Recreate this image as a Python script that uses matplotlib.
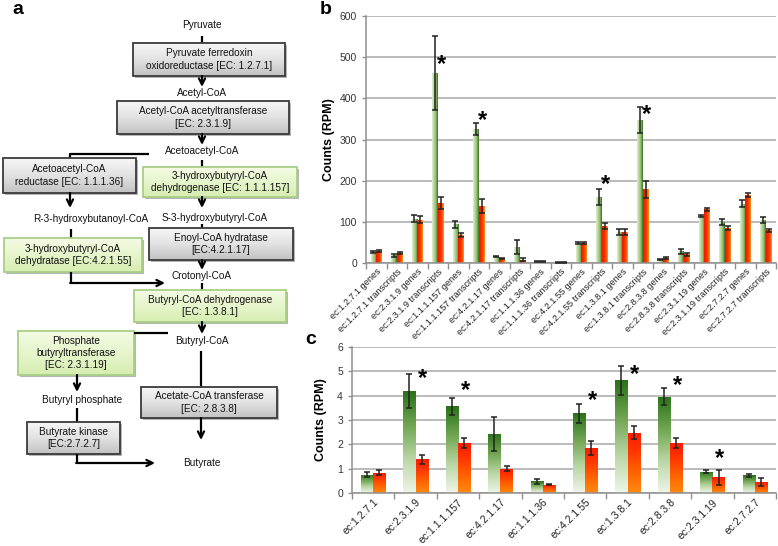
import numpy as np
import matplotlib
matplotlib.use('Agg')
import matplotlib.pyplot as plt
from matplotlib.patches import Rectangle
from matplotlib.colors import LinearSegmentedColormap

plt.rcParams['font.family'] = ['Liberation Sans', 'DejaVu Sans']

# ---------------- data: panel b ----------------
b_labels = ['ec:1.2.7.1 genes', 'ec:1.2.7.1 transcripts', 'ec:2.3.1.9 genes', 'ec:2.3.1.9 transcripts',
            'ec:1.1.1.157 genes', 'ec:1.1.1.157 transcripts', 'ec:4.2.1.17 genes', 'ec:4.2.1.17 transcripts',
            'ec:1.1.1.36 genes', 'ec:1.1.1.36 transcripts', 'ec:4.2.1.55 genes', 'ec:4.2.1.55 transcripts',
            'ec:1.3.8.1 genes', 'ec:1.3.8.1 transcripts', 'ec:2.8.3.8 genes', 'ec:2.8.3.8 transcripts',
            'ec:2.3.1.19 genes', 'ec:2.3.1.19 transcripts', 'ec:2.7.2.7 genes', 'ec:2.7.2.7 transcripts']
b_green = [27, 19, 108, 461, 94, 325, 15, 40, 3, 1, 48, 160, 76, 347, 8, 29, 114, 100, 144, 104]
b_green_err = [3, 4, 8, 90, 8, 15, 1, 17, 1, 0.5, 3, 19, 7, 31, 1, 6, 3, 8, 8, 8]
b_red = [29, 25, 105, 145, 68, 138, 10, 8, 3, 1, 48, 90, 76, 179, 12, 21, 130, 85, 166, 79]
b_red_err = [3, 2, 8, 15, 6, 17, 1, 3, 1, 0.5, 3, 8, 7, 20, 2, 3, 3, 4, 5, 4]
b_star_idx = [3, 5, 11, 13]
b_star_y = [481, 345, 190, 360]
b_yticks = [0, 100, 200, 300, 400, 500, 600]

# ---------------- data: panel c ----------------
c_labels = ['ec:1.2.7.1', 'ec:2.3.1.9', 'ec:1.1.1.157', 'ec:4.2.1.17', 'ec:1.1.1.36',
            'ec:4.2.1.55', 'ec:1.3.8.1', 'ec:2.8.3.8', 'ec:2.3.1.19', 'ec:2.7.2.7']
c_green = [0.75, 4.19, 3.56, 2.44, 0.49, 3.27, 4.63, 3.95, 0.88, 0.73]
c_green_err = [0.1, 0.7, 0.35, 0.7, 0.1, 0.38, 0.6, 0.35, 0.05, 0.07]
c_red = [0.84, 1.38, 2.04, 1.0, 0.33, 1.85, 2.47, 2.04, 0.64, 0.45]
c_red_err = [0.1, 0.17, 0.2, 0.1, 0.02, 0.27, 0.27, 0.2, 0.3, 0.15]
c_star_idx = [1, 2, 5, 6, 7, 8]
c_star_y = [4.7, 4.2, 3.8, 4.85, 4.4, 1.4]
c_yticks = [0, 1, 2, 3, 4, 5, 6]

W, H = 778, 546
fig = plt.figure(figsize=(W / 100, H / 100), dpi=100)

# ---------------- panel a: pathway diagram (pixel coordinates) ----------------
axa = fig.add_axes([0, 0, 1, 1])
axa.set_xlim(0, W)
axa.set_ylim(H, 0)
axa.axis('off')
axa.set_zorder(0)

gray_cmap = LinearSegmentedColormap.from_list('g', ['#f6f6f6', '#e2e2e2', '#c2c2c2'])
green_cmap = LinearSegmentedColormap.from_list('gr', ['#f3fbe4', '#e6f5cc', '#d6edb0'])
FS = 7.2


def box(x0, y0, x1, y1, text, kind):
    # shadow
    axa.add_patch(Rectangle((x0 + 2, y0 + 2), x1 - x0, y1 - y0, facecolor='#b5b5b5',
                            edgecolor='none', zorder=1))
    grad = np.linspace(0, 1, 64).reshape(-1, 1)
    cmap = gray_cmap if kind == 'gray' else green_cmap
    axa.imshow(grad, cmap=cmap, extent=[x0, x1, y1, y0], aspect='auto', zorder=2,
               interpolation='bilinear')
    ec = '#3a3a3a' if kind == 'gray' else '#a9cf86'
    axa.add_patch(Rectangle((x0, y0), x1 - x0, y1 - y0, facecolor='none',
                            edgecolor=ec, lw=1.3, zorder=3))
    axa.text((x0 + x1) / 2, (y0 + y1) / 2, text, ha='center', va='center',
             fontsize=FS, zorder=4, linespacing=1.3, color='#111111')


def label(x, y, text):
    axa.text(x, y, text, ha='center', va='center', fontsize=FS, zorder=4, color='#111111')


def line(xs, ys):
    axa.plot(xs, ys, color='black', lw=1.6, zorder=3, solid_capstyle='butt')


def arrow(x0, y0, x1, y1):
    axa.annotate('', xy=(x1, y1), xytext=(x0, y0),
                 arrowprops=dict(arrowstyle='->', lw=1.6, color='black',
                                 mutation_scale=11, shrinkA=0, shrinkB=0), zorder=3)


axa.text(12, 10, 'a', fontsize=14, fontweight='bold', va='center', ha='left')

label(202, 25, 'Pyruvate')
line([202, 202], [36, 43])
box(133, 43, 285, 76, 'Pyruvate ferredoxin\noxidoreductase [EC: 1.2.7.1]', 'gray')
arrow(202, 76, 202, 87)
label(202, 93, 'Acetyl-CoA')
box(117, 101, 289, 134, 'Acetyl-CoA acetyltransferase\n[EC: 2.3.1.9]', 'gray')
arrow(202, 134, 202, 145)
label(202, 151, 'Acetoacetyl-CoA')
line([149, 70, 70], [154, 154, 158])
box(3, 158, 136, 193, 'Acetoacetyl-CoA\nreductase [EC: 1.1.1.36]', 'gray')
line([202, 202], [160, 167])
box(143, 167, 297, 197, '3-hydroxybutyryl-CoA\ndehydrogenase [EC: 1.1.1.157]', 'green')
arrow(70, 193, 70, 208)
label(91, 219, 'R-3-hydroxybutanoyl-CoA')
arrow(202, 197, 202, 208)
label(215, 218, 'S-3-hydroxybutyryl-CoA')
line([71, 71], [229, 238])
box(4, 238, 142, 272, '3-hydroxybutyryl-CoA\ndehydratase [EC:4.2.1.55]', 'green')
line([202, 202], [224, 228])
box(149, 228, 293, 260, 'Enoyl-CoA hydratase\n[EC:4.2.1.17]', 'gray')
line([71, 71], [272, 283])
arrow(70.2, 283, 165, 283)
arrow(202, 260, 202, 270)
label(202, 276, 'Crotonyl-CoA')
line([202, 202], [283, 290])
box(134, 290, 286, 322, 'Butyryl-CoA dehydrogenase\n[EC: 1.3.8.1]', 'green')
arrow(202, 322, 202, 334)
label(202, 341, 'Butyryl-CoA')
box(18, 331, 134, 375, 'Phosphate\nbutyryltransferase\n[EC: 2.3.1.19]', 'green')
line([134, 168], [333, 333])
line([201, 201], [351, 387])
box(141, 387, 277, 418, 'Acetate-CoA transferase\n[EC: 2.8.3.8]', 'gray')
arrow(201, 418, 201, 440)
label(202, 463, 'Butyrate')
arrow(77, 375, 77, 392)
label(82, 400, 'Butyryl phosphate')
line([77, 77], [408, 422])
box(27, 422, 120, 454, 'Butyrate kinase\n[EC:2.7.2.7]', 'gray')
line([77, 77], [454, 463])
arrow(76.2, 463, 155, 463)

# ---------------- helpers for bar panels ----------------
GRID = '#a8a8a8'
SPINE = '#8f8f8f'


def style_axes(ax, n, yticks, labels, lab_fs, tick_fs):
    ax.set_xlim(-0.5, n - 0.5)
    ax.set_ylim(yticks[0], yticks[-1])
    ax.set_yticks(yticks)
    ax.yaxis.grid(True, color=GRID, lw=1.1)
    ax.set_axisbelow(True)
    for s in ['top', 'right']:
        ax.spines[s].set_visible(False)
    for s in ['left', 'bottom']:
        ax.spines[s].set_color(SPINE)
        ax.spines[s].set_linewidth(1.1)
    ax.set_xticks(np.arange(n))
    ax.set_xticklabels(labels, rotation=45, ha='right', rotation_mode='anchor', fontsize=lab_fs,
                       color='#222222')
    ax.set_xticks(np.arange(n + 1) - 0.5, minor=True)
    ax.tick_params(axis='x', which='major', length=0, pad=3)
    ax.tick_params(axis='x', which='minor', length=4, color=SPINE, width=1)
    ax.tick_params(axis='y', length=3, color=SPINE, width=1, labelsize=tick_fs, labelcolor='#333333')
    ax.set_ylabel('Counts (RPM)', fontsize=9, fontweight='bold')


def gradient_bars(ax, bars, cmap, direction):
    for p in bars.patches:
        x, y = p.get_x(), p.get_y()
        w, h = p.get_width(), p.get_height()
        if direction == 'h':
            grad = np.linspace(0, 1, 64).reshape(1, -1)
            origin = 'lower'
        else:
            grad = np.linspace(0, 1, 64).reshape(-1, 1)
            origin = 'upper'
        im = ax.imshow(grad, cmap=cmap, extent=[x, x + w, y, y + h], aspect='auto', origin=origin,
                       interpolation='bilinear', zorder=2)
        im.set_clip_path(p)


# ---------------- panel b ----------------
axb = fig.add_axes([366 / W, 1 - 263 / H, 410 / W, 247 / H])
axb.set_zorder(2)
nb = len(b_labels)
xb = np.arange(nb)
wb = 0.27
gb = axb.bar(xb - 0.14, b_green, wb, color='none', edgecolor='none', zorder=2)
rb = axb.bar(xb + 0.14, b_red, wb, color='none', edgecolor='none', zorder=2)
gradient_bars(axb, gb, LinearSegmentedColormap.from_list('bg', ['#e3eed6', '#b8d59a', '#8dbb68', '#2f6f1c']), 'h')
gradient_bars(axb, rb, LinearSegmentedColormap.from_list('br', ['#f01800', '#ff2400', '#ff4a00', '#ff9a1a']), 'h')
axb.errorbar(xb - 0.14, b_green, yerr=b_green_err, fmt='none', ecolor='#222222', elinewidth=1.1,
             capsize=2, capthick=1.1, zorder=4)
axb.errorbar(xb + 0.14, b_red, yerr=b_red_err, fmt='none', ecolor='#222222', elinewidth=1.1,
             capsize=2, capthick=1.1, zorder=4)
for i, yv in zip(b_star_idx, b_star_y):
    axb.text(i + 0.2, yv, '*', fontsize=17, fontweight='bold', ha='center', va='center', zorder=5)
style_axes(axb, nb, b_yticks, b_labels, 6.6, 7.5)
axb.yaxis.set_label_coords(-0.075, 0.5)
fig.text(320 / W, 1 - 10 / H, 'b', fontsize=14, fontweight='bold', va='center', ha='left')

# ---------------- panel c ----------------
axc = fig.add_axes([352 / W, 1 - 493 / H, 424 / W, 146 / H])
axc.set_zorder(2)
nc = len(c_labels)
xc = np.arange(nc)
wc = 0.29
gc = axc.bar(xc - wc / 2, c_green, wc, color='none', edgecolor='none', zorder=2)
rc = axc.bar(xc + wc / 2, c_red, wc, color='none', edgecolor='none', zorder=2)
gradient_bars(axc, gc, LinearSegmentedColormap.from_list('cg', ['#2a7219', '#70a552', '#b9d6a4', '#eef5e8']), 'v')
gradient_bars(axc, rc, LinearSegmentedColormap.from_list('cr', ['#ff1a00', '#ff3a00', '#ff6400', '#ff8a10']), 'v')
axc.errorbar(xc - wc / 2, c_green, yerr=c_green_err, fmt='none', ecolor='#222222', elinewidth=1.1,
             capsize=2.5, capthick=1.1, zorder=4)
axc.errorbar(xc + wc / 2, c_red, yerr=c_red_err, fmt='none', ecolor='#222222', elinewidth=1.1,
             capsize=2.5, capthick=1.1, zorder=4)
for i, yv in zip(c_star_idx, c_star_y):
    axc.text(i + 0.17, yv, '*', fontsize=17, fontweight='bold', ha='center', va='center', zorder=5)
style_axes(axc, nc, c_yticks, c_labels, 7.5, 7.5)
axc.yaxis.set_label_coords(-0.06, 0.5)
fig.text(305 / W, 1 - 340 / H, 'c', fontsize=14, fontweight='bold', va='center', ha='left')

fig.savefig('out.png', dpi=100)
